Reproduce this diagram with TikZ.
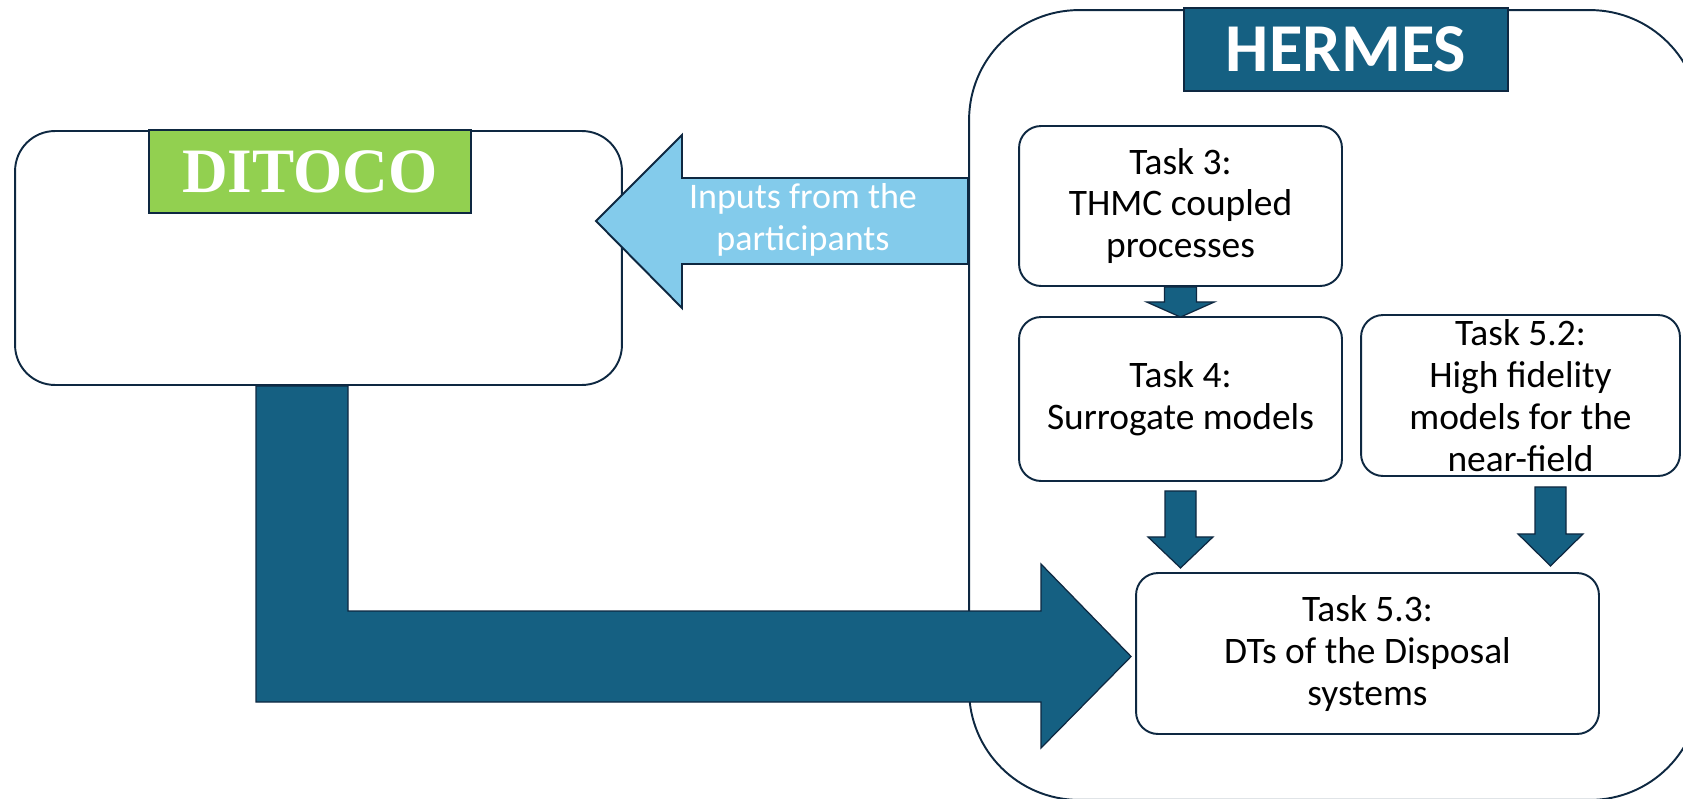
\documentclass[tikz,border=0pt]{standalone}
\usepackage{fontspec}
\setmainfont{Carlito}
\newfontfamily\ditocofont{Liberation Serif}
\usetikzlibrary{
    positioning,
    calc,
}
\definecolor{hermesblue}{HTML}{156082}
\definecolor{navy}{HTML}{0E2841}
\definecolor{skyblue}{HTML}{83CBEB}
\definecolor{ditocogreen}{HTML}{92D050}

\begin{document}
\begin{tikzpicture}[
    x=0.02cm, y=-0.02cm,
    line width=1.1pt,
    frame/.style={draw=navy, fill=white, rounded corners=#1},
    taskbox/.style={frame=0.44cm, align=center, text=black, inner sep=0pt,
                minimum width=6.46cm, minimum height=3.2cm,
                font=\fontsize{21.3}{23.8}\selectfont},
    banner/.style={draw=navy, text=white, inner sep=0pt, minimum height=1.66cm},
    fatarrow/.style={draw=navy, fill=hermesblue, line width=0.7pt},
    inputarrow/.style={draw=navy, fill=skyblue},
]
\useasboundingbox (0,0) rectangle (1683,798);
\clip (0,0) rectangle (1683,798);

% the two projects
\node[frame=2.2cm, minimum width=14.62cm, minimum height=15.8cm] at (1334.5,405) (hermes) {};
\node[frame=0.8cm, minimum width=12.14cm, minimum height=5.08cm] at (318.5,258) (ditoco) {};
\node[banner, fill=ditocogreen, minimum width=6.44cm,
      font=\ditocofont\bfseries\fontsize{36}{36}\selectfont] at (310,171.5) (ditocoLabel) {DITOCO};

% HERMES tasks
\node[taskbox] at (1180.5,206) (task3) {Task 3:\\THMC coupled\\processes};
\node[taskbox, minimum height=3.28cm] at (1180.5,399) (task4) {Task 4:\\Surrogate models};
\node[taskbox, minimum width=6.38cm, minimum height=3.22cm] at (1520.5,395.5) (task52) {Task 5.2:\\High fidelity\\models for the\\near-field};
\node[taskbox, minimum width=9.26cm, minimum height=3.22cm] at (1367.5,653.5) (task53) {Task 5.3:\\DTs of the Disposal\\systems};

% DITOCO feeds task 5.3
\draw[fatarrow] (256,0 |- ditoco.south) -- (256,702) -- (1041,702) -- (1041,748)
    -- ($(task53.west)+(-4,3)$) -- (1041,564) -- (1041,611) -- (348,611)
    -- (348,0 |- ditoco.south) -- cycle;

% inputs back to DITOCO
\coordinate (inputsEnd) at (hermes.west |- 0,221);
\draw[inputarrow] ($(inputsEnd)+(0,-43)$) -- (682,178) -- (682,135) -- (596,221)
    -- (682,308) -- (682,264) -- ($(inputsEnd)+(0,43)$) -- cycle;
\node[text=white, align=center, font=\fontsize{20.5}{23.8}\selectfont] at (803,220) (inputs) {Inputs from the\\participants};

% task arrows
\draw[fatarrow] ($(task3.south)+(-16,0)$) -- ++(0,15) -- ++(-18,0) -- ($(task4.north)+(0,1)$)
    -- ($(task3.south)+(34,15)$) -- ++(-18,0) -- ++(0,-15) -- cycle;
\draw[fatarrow] ($(task4.south)+(-15.5,9)$) -- ++(0,46) -- ++(-17,0) -- ($(task4.south)+(0,86)$)
    -- ($(task4.south)+(32.5,55)$) -- ++(-17,0) -- ++(0,-46) -- cycle;
\draw[fatarrow] ($(task52.south)+(14.5,10)$) -- ++(0,47) -- ++(-17,0) -- ($(task52.south)+(30,89)$)
    -- ($(task52.south)+(62.5,57)$) -- ++(-17,0) -- ++(0,-47) -- cycle;

\node[banner, fill=hermesblue, minimum width=6.48cm,
      font=\bfseries\fontsize{39}{39}\selectfont] at (1346,49.5) (hermesLabel) {HERMES};

\end{tikzpicture}
\end{document}
